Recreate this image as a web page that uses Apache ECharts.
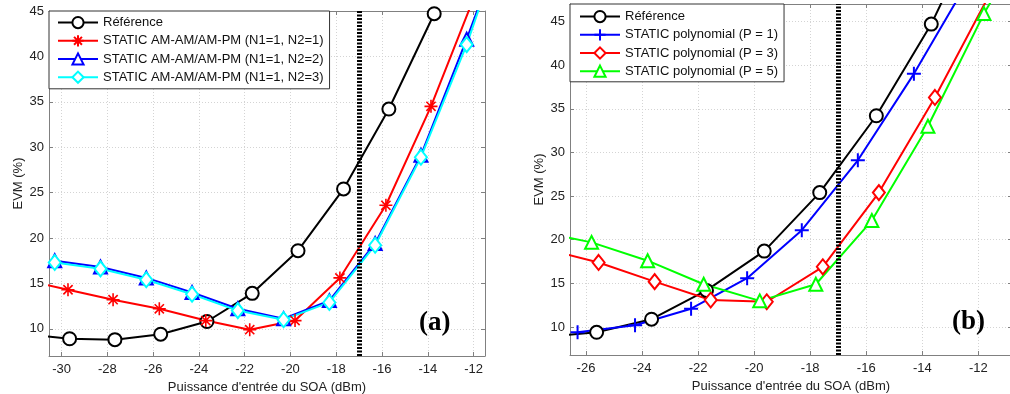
<!DOCTYPE html>
<html>
<head>
<meta charset="utf-8">
<script src="https://cdn.jsdelivr.net/npm/echarts@6/dist/echarts.min.js"></script>
<style>
html,body{margin:0;padding:0;background:#fff;}
#c{width:1010px;height:394px;}
</style>
</head>
<body>
<div id="c"></div>
<script>
// ---------- data: panel (a) ----------
const aRefX = [-31.65, -29.65, -27.67, -25.67, -23.65, -21.67, -19.67, -17.68, -15.7, -13.72, -11.7];
const aRefY = [9.4, 8.9, 8.8, 9.4, 10.8, 13.9, 18.6, 25.4, 34.2, 44.7, 58];
const aN1X = [-31.7, -29.72, -27.75, -25.73, -23.7, -21.78, -19.8, -17.84, -15.83, -13.86, -11.9];
const aN1Y = [15.4, 14.3, 13.2, 12.2, 10.9, 9.9, 10.9, 15.6, 23.6, 34.5, 47];
const aN2X = [-30.3, -28.3, -26.3, -24.3, -22.3, -20.3, -18.3, -16.3, -14.3, -12.3, -10.3];
const aN2Y = [17.5, 16.8, 15.6, 14.0, 12.2, 11.1, 13.1, 19.4, 29.1, 41.9, 55.5];
const aN3X = [-30.3, -28.3, -26.3, -24.3, -22.3, -20.3, -18.3, -16.3, -14.3, -12.3, -10.3];
const aN3Y = [17.3, 16.6, 15.4, 13.8, 12.0, 11.0, 12.9, 19.2, 28.9, 41.3, 56];
// ---------- data: panel (b) ----------
const bRefX = [-27.67, -25.62, -23.66, -21.7, -19.64, -17.66, -15.64, -13.68, -11.7];
const bRefY = [8.8, 9.4, 10.9, 14.2, 18.7, 25.4, 34.2, 44.7, 58];
const bP1X = [-26.3, -24.25, -22.25, -20.25, -18.3, -16.3, -14.3, -12.3];
const bP1Y = [9.4, 10.2, 12.1, 15.6, 21.1, 29.1, 39.0, 50];
const bP3X = [-27.55, -25.55, -23.55, -21.55, -19.55, -17.55, -15.55, -13.55, -11.55];
const bP3Y = [19.0, 17.4, 15.2, 13.1, 12.9, 16.9, 25.4, 36.3, 48.4];
const bP5X = [-27.8, -25.8, -23.8, -21.8, -19.8, -17.8, -15.8, -13.8, -11.8, -9.8];
const bP5Y = [21.0, 19.7, 17.6, 14.9, 13.0, 14.9, 22.2, 33.0, 45.9, 57];
const thresholdX = -17;

const namesA = ['Référence', 'STATIC AM-AM/AM-PM (N1=1, N2=1)', 'STATIC AM-AM/AM-PM (N1=1, N2=2)', 'STATIC AM-AM/AM-PM (N1=1, N2=3)'];
const namesB = ['Référence', 'STATIC polynomial (P = 1)', 'STATIC polynomial (P = 3)', 'STATIC polynomial (P = 5)'];
const xName = "Puissance d'entrée du SOA (dBm)";
const yName = 'EVM (%)';

const zip = (xs, ys) => xs.map((x, i) => [x, ys[i]]);
const FONT = 'Liberation Sans, Arial, sans-serif';
const AX = '#808080';
const STAR = 'path://M0,-10L0,10M-10,0L10,0M-7.07,-7.07L7.07,7.07M-7.07,7.07L7.07,-7.07';
const PLUS = 'path://M0,-10L0,10M-10,0L10,0';

function mainX(grid, min, max) {
  return {
    type: 'value', gridIndex: grid, min: min, max: max, splitNumber: 9, position: 'bottom',
    name: xName, nameLocation: 'middle', nameGap: 24,
    nameTextStyle: {fontFamily: FONT, fontSize: 13, color: '#222'},
    axisLine: {show: true, lineStyle: {color: AX, width: 1}},
    axisTick: {show: true, inside: true, length: 4, lineStyle: {color: AX}},
    axisLabel: {fontFamily: FONT, fontSize: 13, color: '#222', margin: 7, showMinLabel: false, showMaxLabel: false},
    splitLine: {show: true, lineStyle: {color: '#d4d4d4', type: [1, 2], width: 1}}
  };
}
function topX(grid, min, max) {
  return {
    type: 'value', gridIndex: grid, min: min, max: max, splitNumber: 9, position: 'top',
    axisLine: {show: true, lineStyle: {color: AX, width: 1}},
    axisTick: {show: true, inside: true, length: 4, lineStyle: {color: AX}},
    axisLabel: {show: false}, splitLine: {show: false}
  };
}
function mainY(grid, min, max, hideMax, gap) {
  return {
    type: 'value', gridIndex: grid, min: min, max: max, splitNumber: 8, position: 'left',
    name: yName, nameLocation: 'middle', nameGap: gap, nameRotate: 90,
    nameTextStyle: {fontFamily: FONT, fontSize: 13, color: '#222'},
    axisLine: {show: true, lineStyle: {color: AX, width: 1}},
    axisTick: {show: true, inside: true, length: 4, lineStyle: {color: AX}},
    axisLabel: {fontFamily: FONT, fontSize: 13, color: '#222', margin: 5, showMinLabel: false, showMaxLabel: !hideMax},
    splitLine: {show: true, lineStyle: {color: '#d4d4d4', type: [1, 2], width: 1}}
  };
}
function rightY(grid, min, max) {
  return {
    type: 'value', gridIndex: grid, min: min, max: max, splitNumber: 8, position: 'right',
    axisLine: {show: true, lineStyle: {color: AX, width: 1}},
    axisTick: {show: true, inside: true, length: 4, lineStyle: {color: AX}},
    axisLabel: {show: false}, splitLine: {show: false}
  };
}
function ser(name, xi, yi, data, color, symbol, size, extra) {
  const s = {
    type: 'line', name: name, xAxisIndex: xi, yAxisIndex: yi, data: data,
    symbol: symbol, symbolSize: size, showAllSymbol: true, clip: true,
    color: color,
    lineStyle: {color: color, width: 2},
    itemStyle: {color: color, borderColor: color, borderWidth: 2},
    emphasis: {disabled: true}, animation: false
  };
  return Object.assign(s, extra || {});
}
const vline = {
  silent: true, symbol: 'none', animation: false,
  label: {show: false},
  lineStyle: {color: '#000', width: 5, type: [2, 1.5]},
  data: [{xAxis: thresholdX}]
};

const chart = echarts.init(document.getElementById('c'), null, {renderer: 'canvas'});
chart.setOption({
  backgroundColor: '#fff',
  animation: false,
  grid: [
    {left: 49, top: 11, width: 436, height: 345, containLabel: false, outerBoundsMode: 'none'},
    {left: 570, top: 4, width: 442, height: 351, containLabel: false, outerBoundsMode: 'none'}
  ],
  xAxis: [mainX(0, -30.55, -11.5), topX(0, -30.55, -11.5), mainX(1, -26.57, -10.8), topX(1, -26.57, -10.8)],
  yAxis: [mainY(0, 7, 45, false, 24), rightY(0, 7, 45), mainY(1, 6.8, 47, true, 24), rightY(1, 6.8, 47)],
  legend: [
    {
      data: namesA.map(n => ({name: n})), orient: 'vertical', left: 49, top: 11,
      padding: [5, 6, 5, 8], itemGap: 5, itemWidth: 40, itemHeight: 14,
      backgroundColor: '#fff', borderColor: '#333', borderWidth: 1, borderRadius: 0,
      textStyle: {fontFamily: FONT, fontSize: 13, color: '#111'}, selectedMode: false
    },
    {
      data: namesB.map(n => ({name: n})), orient: 'vertical', left: 570, top: 4,
      padding: [6, 6, 4, 9], itemGap: 5, itemWidth: 40, itemHeight: 14,
      backgroundColor: '#fff', borderColor: '#333', borderWidth: 1, borderRadius: 0,
      textStyle: {fontFamily: FONT, fontSize: 13, color: '#111'}, selectedMode: false
    }
  ],
  series: [
    ser(namesA[0], 0, 0, zip(aRefX, aRefY), '#000000', 'emptyCircle', 13),
    ser(namesA[1], 0, 0, zip(aN1X, aN1Y), '#ff0000', STAR, 13, {itemStyle: {color: '#ff0000', borderColor: '#ff0000', borderWidth: 1.6}}),
    ser(namesA[2], 0, 0, zip(aN2X, aN2Y), '#0000ff', 'emptyTriangle', 13),
    ser(namesA[3], 0, 0, zip(aN3X, aN3Y), '#00ffff', 'emptyDiamond', [12, 15], {markLine: vline}),
    ser(namesB[0], 2, 2, zip(bRefX, bRefY), '#000000', 'emptyCircle', 13),
    ser(namesB[1], 2, 2, zip(bP1X, bP1Y), '#0000ff', PLUS, 14, {itemStyle: {color: '#0000ff', borderColor: '#0000ff', borderWidth: 2}}),
    ser(namesB[2], 2, 2, zip(bP3X, bP3Y), '#ff0000', 'emptyDiamond', [12, 15]),
    ser(namesB[3], 2, 2, zip(bP5X, bP5Y), '#00ff00', 'emptyTriangle', 13, {markLine: vline})
  ],
  graphic: [
    {type: 'text', left: 419, top: 310, style: {text: '(a)', font: 'bold 27px "Liberation Serif", "Times New Roman", serif', fill: '#000'}, z: 10},
    {type: 'text', left: 952, top: 309, style: {text: '(b)', font: 'bold 27px "Liberation Serif", "Times New Roman", serif', fill: '#000'}, z: 10}
  ]
});
</script>
</body>
</html>
